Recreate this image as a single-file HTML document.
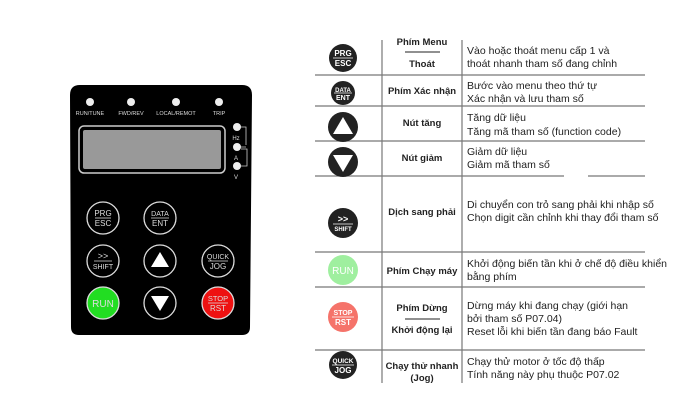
<!DOCTYPE html>
<html><head><meta charset="utf-8"><style>
html,body{margin:0;padding:0;background:#fff;width:700px;height:420px;overflow:hidden}
svg{display:block}
text{font-family:"Liberation Sans",sans-serif}
</style></head><body>
<svg width="700" height="420" viewBox="0 0 700 420" xmlns="http://www.w3.org/2000/svg">
<!-- Panel -->
<path d="M80,85 H242 Q252,85 252,95 L250,327 Q250,335 242,335 H79 Q71,335 71,327 L70,95 Q70,85 80,85 Z" fill="#000"/>
<g fill="#eee"><circle cx="90" cy="102" r="4"/><circle cx="131" cy="102" r="4"/><circle cx="176" cy="102" r="4"/><circle cx="219" cy="102" r="4"/></g>
<g fill="#ddd" font-size="5.5" text-anchor="middle"><text x="90" y="115">RUN/TUNE</text><text x="131" y="115">FWD/REV</text><text x="176" y="115">LOCAL/REMOT</text><text x="219" y="115">TRIP</text></g>
<rect x="79" y="126" width="146" height="47" rx="5" fill="#000" stroke="#ccc" stroke-width="1.5"/>
<rect x="83" y="130" width="138" height="39" rx="2" fill="#999"/>
<g fill="#eee"><circle cx="237" cy="127" r="4"/><circle cx="237" cy="147" r="4"/><circle cx="237" cy="166" r="4"/></g>
<g fill="#ddd" font-size="6" text-anchor="middle"><text x="236" y="140">Hz</text><text x="236" y="160">A</text><text x="236" y="179">V</text></g>
<path d="M241,127 H246 V145 M241,147 H246 M241,166 H247 V149 H241" stroke="#ccc" fill="none" stroke-width="0.8"/>
<!-- buttons -->
<g stroke="#ddd" stroke-width="1.3" fill="#000">
<circle cx="103" cy="218" r="16"/><circle cx="160" cy="218" r="16"/>
<circle cx="103" cy="261" r="16"/><circle cx="160" cy="261" r="16"/><circle cx="218" cy="261" r="16"/>
<circle cx="103" cy="303" r="16" fill="#22dd22"/><circle cx="160" cy="303" r="16"/><circle cx="218" cy="303" r="16" fill="#ee1111"/>
</g>
<g fill="#ddd" font-size="8" text-anchor="middle">
<text x="103" y="216">PRG</text><text x="103" y="226">ESC</text>
<text x="160" y="216" font-size="7">DATA</text><text x="160" y="226">ENT</text>
<text x="103" y="259" font-size="9">&gt;&gt;</text><text x="103" y="269" font-size="7">SHIFT</text>
<text x="218" y="259" font-size="7">QUICK</text><text x="218" y="269">JOG</text>
<text x="103" y="307" font-size="10">RUN</text>
<text x="218" y="301" font-size="7.5">STOP</text><text x="218" y="311">RST</text>
</g>
<g stroke="#ddd" stroke-width="0.8"><line x1="95" y1="218" x2="111" y2="218"/><line x1="151" y1="218" x2="169" y2="218"/><line x1="94" y1="261" x2="112" y2="261"/><line x1="208" y1="261" x2="228" y2="261"/><line x1="208" y1="303" x2="228" y2="303"/></g>
<polygon points="160,252 169,267 151,267" fill="#fff"/>
<polygon points="160,311 169,296 151,296" fill="#fff"/>

<!-- Table lines -->
<g stroke="#777" stroke-width="1.2">
<line x1="382" y1="40" x2="382" y2="383"/><line x1="462" y1="40" x2="462" y2="383"/>
<line x1="315" y1="75" x2="645" y2="75"/><line x1="315" y1="106" x2="645" y2="106"/>
<line x1="315" y1="141" x2="645" y2="141"/><line x1="315" y1="176" x2="564" y2="176"/><line x1="588" y1="176" x2="645" y2="176"/>
<line x1="315" y1="252" x2="645" y2="252"/><line x1="315" y1="287" x2="645" y2="287"/>
<line x1="315" y1="350" x2="645" y2="350"/>
</g>
<g stroke="#222" stroke-width="1"><line x1="405" y1="52" x2="440" y2="52"/><line x1="405" y1="319" x2="440" y2="319"/></g>
<!-- icons -->
<g fill="#222">
<circle cx="343" cy="58" r="14"/><circle cx="343" cy="93" r="12"/><circle cx="343" cy="127" r="15"/><circle cx="343" cy="162" r="15"/>
<circle cx="343" cy="223" r="15"/><circle cx="343" cy="365" r="14"/>
</g>
<circle cx="343" cy="270" r="15" fill="#9fef9f"/>
<circle cx="343" cy="317" r="15" fill="#f5736a"/>
<polygon points="343,117 353,134 333,134" fill="#fff"/>
<polygon points="343,172 353,155 333,155" fill="#fff"/>
<g fill="#fff" font-size="8" text-anchor="middle" font-weight="bold">
<text x="343" y="56">PRG</text><text x="343" y="66">ESC</text>
<text x="343" y="92" font-size="6">DATA</text><text x="343" y="100" font-size="7">ENT</text>
<text x="343" y="222" font-size="9">&gt;&gt;</text><text x="343" y="231" font-size="6">SHIFT</text>
<text x="343" y="274" font-size="10" font-weight="normal">RUN</text>
<text x="343" y="315" font-size="7">STOP</text><text x="343" y="325">RST</text>
<text x="343" y="363" font-size="6.5">QUICK</text><text x="343" y="373">JOG</text>
</g>
<g stroke="#fff" stroke-width="0.8"><line x1="333" y1="58" x2="353" y2="58"/><line x1="334" y1="93" x2="352" y2="93"/><line x1="333" y1="224" x2="353" y2="224"/><line x1="332" y1="317" x2="354" y2="317"/><line x1="332" y1="365" x2="354" y2="365"/></g>
<!-- col2 -->
<g fill="#222" font-size="9.5" font-weight="bold" text-anchor="middle">
<text x="422" y="45">Phím Menu</text><text x="422" y="67">Thoát</text>
<text x="422" y="94">Phím Xác nhận</text>
<text x="422" y="126">Nút tăng</text>
<text x="422" y="161">Nút giảm</text>
<text x="422" y="215">Dịch sang phải</text>
<text x="422" y="274">Phím Chạy máy</text>
<text x="422" y="311">Phím Dừng</text><text x="422" y="333">Khởi động lại</text>
<text x="422" y="369">Chạy thử nhanh</text><text x="422" y="381">(Jog)</text>
</g>
<!-- col3 -->
<g fill="#222" font-size="10.5">
<text x="467" y="54">Vào hoặc thoát menu cấp 1 và</text><text x="467" y="67">thoát nhanh tham số đang chỉnh</text>
<text x="467" y="89">Bước vào menu theo thứ tự</text><text x="467" y="102">Xác nhận và lưu tham số</text>
<text x="467" y="121">Tăng dữ liệu</text><text x="467" y="135">Tăng mã tham số (function code)</text>
<text x="467" y="155">Giảm dữ liệu</text><text x="467" y="168">Giảm mã tham số</text>
<text x="467" y="208">Di chuyển con trỏ sang phải khi nhập số</text><text x="467" y="221">Chọn digit cần chỉnh khi thay đổi tham số</text>
<text x="467" y="267">Khởi động biến tần khi ở chế độ điều khiển</text><text x="467" y="280">bằng phím</text>
<text x="467" y="309">Dừng máy khi đang chạy (giới hạn</text><text x="467" y="322">bởi tham số P07.04)</text><text x="467" y="335">Reset lỗi khi biến tần đang báo Fault</text>
<text x="467" y="365">Chạy thử motor ở tốc độ thấp</text><text x="467" y="378">Tính năng này phụ thuộc P07.02</text>
</g>
</svg>
</body></html>
